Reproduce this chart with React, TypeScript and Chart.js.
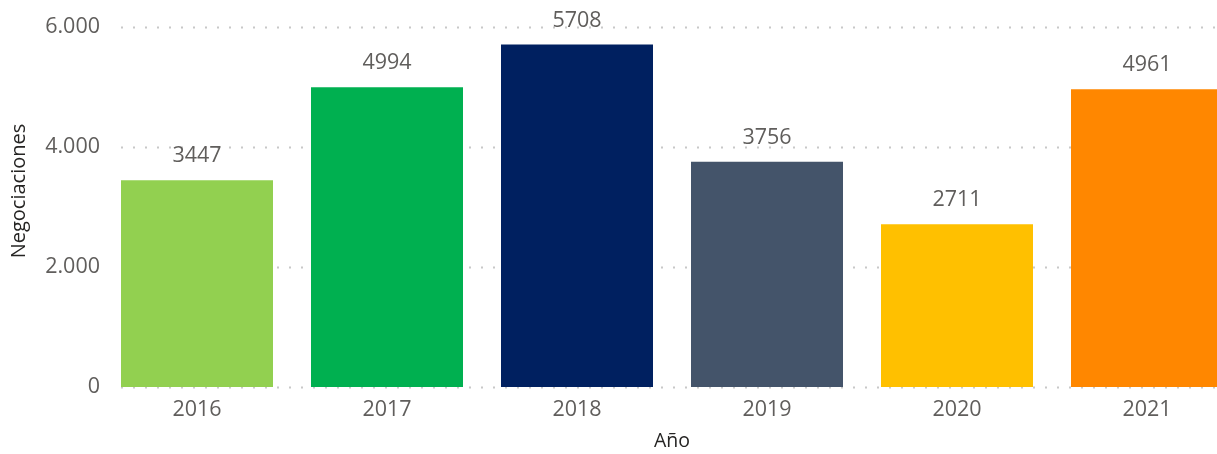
import React, { useEffect, useRef } from "react";
import { Chart, registerables } from "chart.js";

Chart.register(...registerables);

const years = ["2016", "2017", "2018", "2019", "2020", "2021"];
const negociaciones = [3447, 4994, 5708, 3756, 2711, 4961];
const barColors = ["#92D050", "#00B050", "#002060", "#44546A", "#FFC000", "#FF8700"];
const yTicks = [0, 2000, 4000, 6000];
const yTitle = "Negociaciones";
const xTitle = "Año";

const FONT = "'Segoe UI', 'Open Sans', sans-serif";

const fmt = (v: number) => String(v).replace(/\B(?=(\d{3})+(?!\d))/g, ".");

const dottedGrid = {
  id: "dottedGrid",
  beforeDatasetsDraw(chart: any) {
    const { ctx } = chart;
    const y = chart.scales.y;
    const meta = chart.getDatasetMeta(0);
    const first = meta.data[0] as any;
    const startX = first.x - first.width / 2;
    ctx.save();
    ctx.strokeStyle = "#C8C8C8";
    ctx.lineWidth = 2;
    ctx.setLineDash([2, 10]);
    yTicks.forEach((t) => {
      const py = Math.round(y.getPixelForValue(t)) + 0.5;
      ctx.beginPath();
      ctx.moveTo(startX, py);
      ctx.lineTo(chart.width, py);
      ctx.stroke();
    });
    ctx.restore();
  },
};

const labelsAndTitle = {
  id: "labelsAndTitle",
  afterDatasetsDraw(chart: any) {
    const { ctx } = chart;
    const meta = chart.getDatasetMeta(0);
    ctx.save();
    ctx.fillStyle = "#605E5C";
    ctx.font = `21.5px ${FONT}`;
    ctx.textAlign = "center";
    ctx.textBaseline = "middle";
    meta.data.forEach((bar: any, i: number) => {
      ctx.fillText(String(negociaciones[i]), bar.x, bar.y - 24);
    });
    ctx.restore();

    ctx.save();
    ctx.fillStyle = "#252423";
    ctx.font = `20px ${FONT}`;
    ctx.textAlign = "center";
    ctx.textBaseline = "middle";
    ctx.translate(19, 191);
    ctx.rotate(-Math.PI / 2);
    ctx.fillText(yTitle, 0, 0);
    ctx.restore();
  },
};

export default function App() {
  const ref = useRef<HTMLCanvasElement | null>(null);

  useEffect(() => {
    if (!ref.current) return;
    const chart = new Chart(ref.current, {
      type: "bar",
      data: {
        labels: years,
        datasets: [
          {
            data: negociaciones,
            backgroundColor: barColors,
            categoryPercentage: 1,
            barPercentage: 0.8,
          },
        ],
      },
      options: {
        animation: false,
        responsive: false,
        maintainAspectRatio: false,
        layout: { padding: { top: 27, left: 0, right: 0, bottom: 0 } },
        plugins: {
          legend: { display: false },
          tooltip: { enabled: false },
        },
        scales: {
          x: {
            grid: { display: false, drawTicks: false },
            border: { display: false },
            ticks: {
              color: "#605E5C",
              font: { family: FONT, size: 21.5 },
              padding: 10,
            },
            title: {
              display: true,
              text: xTitle,
              color: "#252423",
              font: { family: FONT, size: 19.5 },
              padding: { top: 0, bottom: 1 },
            },
            afterFit(scale: any) {
              scale.height = 67;
            },
          },
          y: {
            min: 0,
            max: 6000,
            grid: { display: false, drawTicks: false },
            border: { display: false },
            ticks: {
              stepSize: 2000,
              color: "#605E5C",
              font: { family: FONT, size: 21.5 },
              padding: 2,
              callback: (v: any) => fmt(Number(v)),
            },
            title: { display: false },
            afterFit(scale: any) {
              scale.width = 102;
            },
          },
        },
      },
      plugins: [dottedGrid, labelsAndTitle],
    });
    return () => chart.destroy();
  }, []);

  return (
    <div
      style={{
        position: "fixed",
        left: 0,
        top: 0,
        width: 1217,
        height: 454,
        overflow: "hidden",
        background: "#fff",
      }}
    >
      <canvas ref={ref} width={1242} height={454} style={{ width: 1242, height: 454, display: "block" }} />
    </div>
  );
}
